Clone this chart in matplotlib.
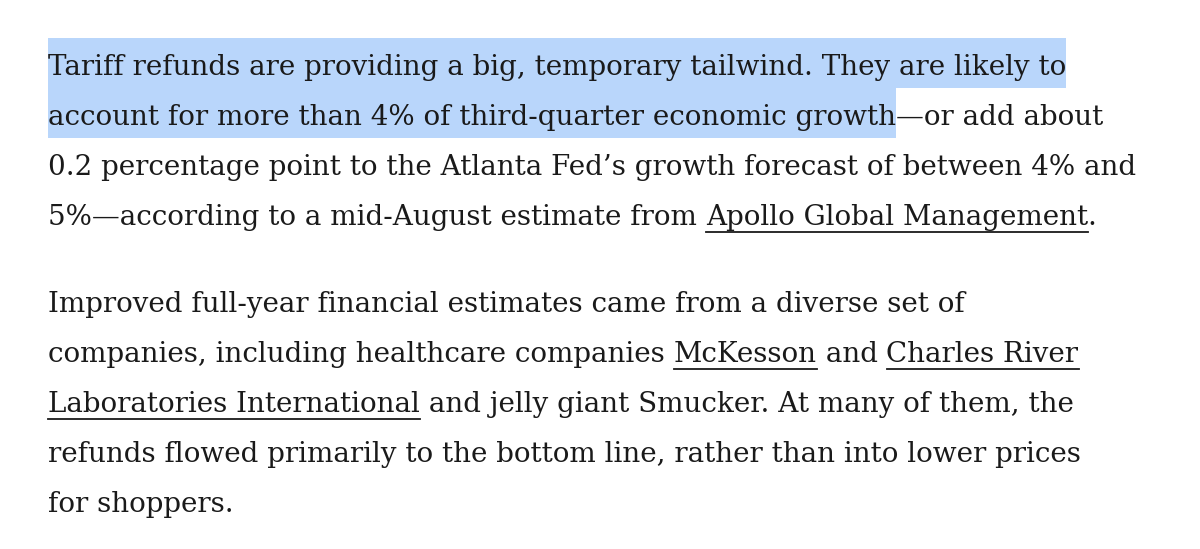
import matplotlib
matplotlib.use("Agg")
import matplotlib.pyplot as plt
from matplotlib.patches import Rectangle

# segments: (text, style) style: n=normal, h=highlight, u=underline
para1 = [
    [("Tariff refunds are providing a big, temporary tailwind. They are likely to", "h")],
    [("account for more than 4% of third-quarter economic growth", "h"), ("\u2014or add about", "n")],
    [("0.2 percentage point to the Atlanta Fed\u2019s growth forecast of between 4% and", "n")],
    [("5%\u2014according to a mid-August estimate from ", "n"), ("Apollo Global Management", "u"), (".", "n")],
]
para2 = [
    [("Improved full-year financial estimates came from a diverse set of", "n")],
    [("companies, including healthcare companies ", "n"), ("McKesson", "u"), (" and ", "n"), ("Charles River", "u")],
    [("Laboratories International", "u"), (" and jelly giant Smucker. At many of them, the", "n")],
    [("refunds flowed primarily to the bottom line, rather than into lower prices", "n")],
    [("for shoppers.", "n")],
]
line_ends1 = [1133, 1172, 1137, 1165]
baselines1 = [75, 125, 175, 225]
baselines2 = [312, 362, 412, 462, 512]

W, H = 1200, 549
fig = plt.figure(figsize=(W/100, H/100), dpi=100)
ax = fig.add_axes([0, 0, 1, 1])
ax.set_xlim(0, W); ax.set_ylim(H, 0); ax.axis("off")
fig.patch.set_facecolor("white")
r = fig.canvas.get_renderer()
FAM = "DejaVu Serif"
col = "#1a1a1a"

def width(s, fs):
    t = ax.text(0, 0, s, fontsize=fs, family=FAM)
    w = t.get_window_extent(r).width
    t.remove()
    return w

x0 = 48
fs = 22.0
fs = min(fs * (e - x0) / width("".join(t for t, _ in segs), fs)
         for segs, e in zip(para1, line_ends1))

for lines, bases in ((para1, baselines1), (para2, baselines2)):
    for segs, yb in zip(lines, bases):
        prefix = ""
        for txt, st in segs:
            xs = x0 + (width(prefix + "|", fs) - width("|", fs) if prefix else 0)
            wseg = width(prefix + txt + "|", fs) - width("|", fs) - (xs - x0)
            if st == "h":
                ax.add_patch(Rectangle((xs, yb - 37), wseg, 50, color="#b9d6fb", zorder=0, lw=0))
            ax.text(xs, yb, txt, fontsize=fs, family=FAM, color=col, va="baseline", zorder=2)
            if st == "u":
                ax.plot([xs, xs + wseg], [yb + 7, yb + 7], color=col, lw=1.3, zorder=2)
            prefix += txt

fig.savefig("out.png", dpi=100, facecolor="white")
